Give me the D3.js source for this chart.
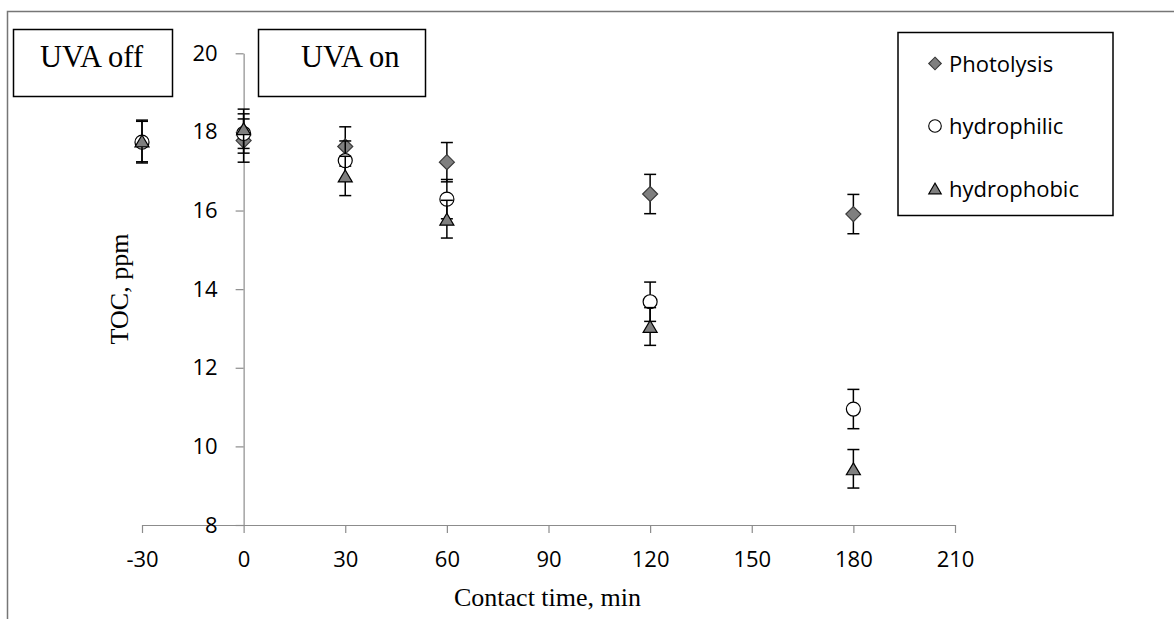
<!DOCTYPE html>
<html>
<head>
<meta charset="utf-8">
<script src="https://cdn.jsdelivr.net/npm/d3@7"></script>
<style>
  body { margin: 0; background: #fff; }
  svg { display: block; }
</style>
</head>
<body>
<div id="chart"></div>
<script>
// data
var seriesNames = ["Photolysis", "hydrophilic", "hydrophobic"];

var photoTime = [0, 30, 60, 120, 180];
var photoToc = [17.78, 17.63, 17.23, 16.42, 15.91];
var photoErr = [0.55, 0.5, 0.5, 0.5, 0.5];

var philicTime = [-30, 0, 30, 60, 120, 180];
var philicToc = [17.74, 17.96, 17.27, 16.29, 13.68, 10.95];
var philicErr = [0.53, 0.5, 0.5, 0.5, 0.5, 0.5];

var phobicTime = [-30, 0, 30, 60, 120, 180];
var phobicToc = [17.77, 18.08, 16.88, 15.78, 13.05, 9.43];
var phobicErr = [0.53, 0.5, 0.5, 0.48, 0.48, 0.49];

var xTicks = [-30, 0, 30, 60, 90, 120, 150, 180, 210];
var yTicks = [8, 10, 12, 14, 16, 18, 20];

var width = 1174;
var height = 619;

var svg = d3.select("#chart")
    .append("svg")
    .attr("width", width)
    .attr("height", height);

svg.append("rect")
    .attr("width", width)
    .attr("height", height)
    .attr("fill", "#fff");

// outer frame (only top and left are in view)
svg.append("path")
    .attr("d", "M7.5," + height + "V11.5H" + width)
    .attr("fill", "none")
    .attr("stroke", "#767676")
    .attr("stroke-width", 1.5);

var xScale = d3.scaleLinear().domain([-30, 210]).range([142, 955]);
var yScale = d3.scaleLinear().domain([8, 20]).range([525, 53.3]);

// plain hyphen for negatives, like the original
var plain = function (d) { return String(d); };

var xAxis = d3.axisBottom(xScale)
    .tickValues(xTicks)
    .tickFormat(plain)
    .tickSize(8)
    .tickSizeOuter(0)
    .tickPadding(18);

var yAxis = d3.axisLeft(yScale)
    .tickValues(yTicks)
    .tickFormat(plain)
    .tickSize(8)
    .tickSizeOuter(0)
    .tickPadding(18);

var gx = svg.append("g")
    .attr("transform", "translate(0," + yScale(8) + ")")
    .call(xAxis);

var gy = svg.append("g")
    .attr("transform", "translate(" + xScale(0) + ",0)")
    .call(yAxis);

[gx, gy].forEach(function (g) {
    g.attr("font-family", "'Open Sans', sans-serif")
        .attr("font-size", 22);
    g.selectAll("path, line").attr("stroke", "#8c8c8c").attr("stroke-width", 1.2);
    g.selectAll("text").attr("fill", "#000");
});

// axis titles
svg.append("text")
    .attr("x", 547.5)
    .attr("y", 606)
    .attr("text-anchor", "middle")
    .attr("font-family", "'Liberation Serif', 'Times New Roman', serif")
    .attr("font-size", 26)
    .text("Contact time, min");

svg.append("text")
    .attr("transform", "translate(128,289) rotate(-90)")
    .attr("text-anchor", "middle")
    .attr("font-family", "'Liberation Serif', 'Times New Roman', serif")
    .attr("font-size", 26)
    .text("TOC, ppm");

// UVA boxes
function noteBox(x, y, w, h, tx, label) {
    svg.append("rect")
        .attr("x", x).attr("y", y)
        .attr("width", w).attr("height", h)
        .attr("fill", "#fff")
        .attr("stroke", "#000")
        .attr("stroke-width", 1.5);
    svg.append("text")
        .attr("x", tx)
        .attr("y", 67)
        .attr("font-family", "'Liberation Serif', 'Times New Roman', serif")
        .attr("font-size", 30.5)
        .text(label);
}
noteBox(13.5, 29.5, 159, 67, 40, "UVA off");
noteBox(258.5, 29.5, 167, 67, 301, "UVA on");

// marker shapes
function markerPath(type, s) {
    if (type == 0) {
        return "M0," + (-s) + "L" + s + ",0L0," + s + "L" + (-s) + ",0Z";
    }
    if (type == 1) {
        return d3.arc()({ innerRadius: 0, outerRadius: s, startAngle: 0, endAngle: 2 * Math.PI });
    }
    var h = s * 0.85;
    return "M0," + (-h) + "L" + s + "," + h + "L" + (-s) + "," + h + "Z";
}
var markerFill = ["#7f7f7f", "#fff", "#7f7f7f"];
var markerStroke = ["#3a3a3a", "#000", "#000"];
var markerSize = [7.5, 7, 7];

var series = [
    { t: photoTime, v: photoToc, e: photoErr },
    { t: philicTime, v: philicToc, e: philicErr },
    { t: phobicTime, v: phobicToc, e: phobicErr }
];

series.forEach(function (s, k) {
    var pts = s.t.map(function (t, i) {
        return { t: t, v: s.v[i], e: s.e[i] };
    });
    var g = svg.append("g");

    // error bars
    var eb = g.selectAll(".err")
        .data(pts)
        .enter()
        .append("g")
        .attr("stroke", "#000")
        .attr("stroke-width", 1.5);
    eb.append("line")
        .attr("x1", function (d) { return xScale(d.t); })
        .attr("x2", function (d) { return xScale(d.t); })
        .attr("y1", function (d) { return yScale(d.v + d.e); })
        .attr("y2", function (d) { return yScale(d.v - d.e); });
    [1, -1].forEach(function (sign) {
        eb.append("line")
            .attr("x1", function (d) { return xScale(d.t) - 6; })
            .attr("x2", function (d) { return xScale(d.t) + 6; })
            .attr("y1", function (d) { return yScale(d.v + sign * d.e); })
            .attr("y2", function (d) { return yScale(d.v + sign * d.e); });
    });

    // markers
    g.selectAll(".mk")
        .data(pts)
        .enter()
        .append("path")
        .attr("transform", function (d) {
            return "translate(" + xScale(d.t) + "," + yScale(d.v) + ")";
        })
        .attr("d", markerPath(k, markerSize[k]))
        .attr("fill", markerFill[k])
        .attr("stroke", markerStroke[k])
        .attr("stroke-width", 1.2);
});

// legend
var legend = svg.append("g");
legend.append("rect")
    .attr("x", 898).attr("y", 32.5)
    .attr("width", 215).attr("height", 183)
    .attr("fill", "#fff")
    .attr("stroke", "#000")
    .attr("stroke-width", 1.5);

var legendY = [63.5, 126, 188.5];
seriesNames.forEach(function (name, k) {
    legend.append("path")
        .attr("transform", "translate(935," + legendY[k] + ")")
        .attr("d", markerPath(k, 6.3))
        .attr("fill", markerFill[k])
        .attr("stroke", markerStroke[k])
        .attr("stroke-width", 1.1);
    legend.append("text")
        .attr("x", 949)
        .attr("y", legendY[k] + 8)
        .attr("font-family", "'Open Sans', sans-serif")
        .attr("font-size", 22)
        .text(name);
});
</script>
</body>
</html>
